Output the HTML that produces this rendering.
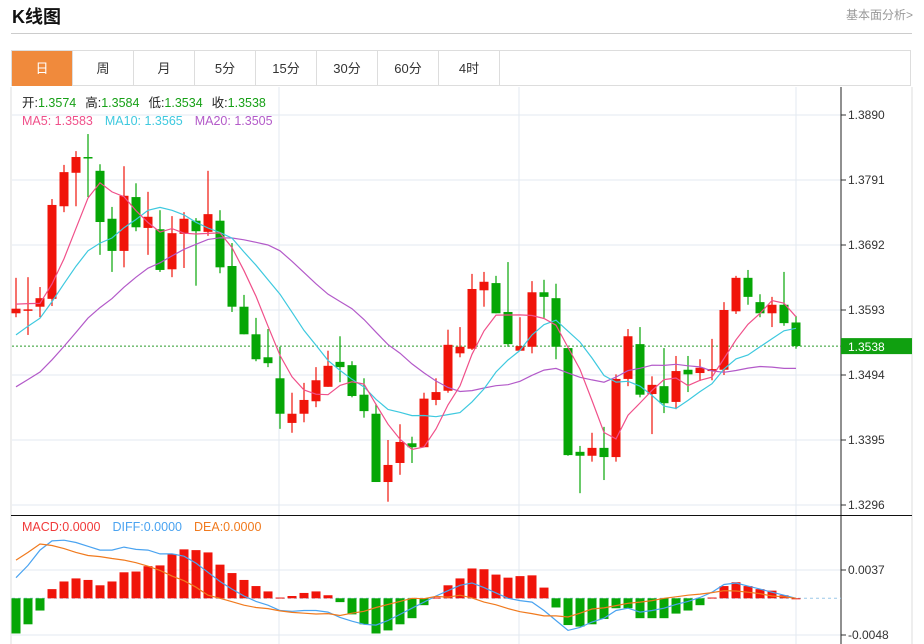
<!DOCTYPE html>
<html><head><meta charset="utf-8">
<style>
body{margin:0;background:#fff;font-family:"Liberation Sans","Noto Sans CJK SC",sans-serif;}
#wrap{position:relative;width:924px;height:644px;overflow:hidden;}
.title{position:absolute;left:12px;top:3px;font-size:18px;font-weight:bold;color:#111;}
.more{position:absolute;right:11px;top:6px;font-size:12px;color:#999;}
.hr{position:absolute;left:11px;top:33px;width:901px;height:1px;background:#ccc;}
.tabs{position:absolute;left:11px;top:50px;height:36px;width:900px;border:1px solid #ddd;border-bottom:1px solid #ddd;box-sizing:border-box;}
.tab{position:absolute;top:0;height:35px;width:61px;border-right:1px solid #ddd;box-sizing:border-box;text-align:center;line-height:35px;font-size:13px;color:#333;}
.tab.on{background:#f08a3c;color:#fff;}
</style></head><body>
<div id="wrap">
<div class="title">K线图</div>
<div class="more">基本面分析&gt;</div>
<div class="hr"></div>
<div class="tabs">
<div class="tab on" style="left:0">日</div>
<div class="tab" style="left:61px">周</div>
<div class="tab" style="left:122px">月</div>
<div class="tab" style="left:183px">5分</div>
<div class="tab" style="left:244px">15分</div>
<div class="tab" style="left:305px">30分</div>
<div class="tab" style="left:366px">60分</div>
<div class="tab" style="left:427px">4时</div>
</div>
<svg id="chart" width="924" height="644" style="position:absolute;left:0;top:0"></svg>
</div>
<script>
const opens=[1.3588,1.3593,1.3598,1.3610,1.3751,1.3802,1.3826,1.3805,1.3732,1.3683,1.3765,1.3718,1.3716,1.3655,1.3709,1.3729,1.3712,1.3729,1.3660,1.3598,1.3556,1.3521,1.3489,1.3421,1.3435,1.3454,1.3476,1.3514,1.3509,1.3464,1.3435,1.3331,1.3360,1.3390,1.3384,1.3456,1.3470,1.3527,1.3534,1.3623,1.3634,1.3590,1.3531,1.3537,1.3620,1.3611,1.3535,1.3377,1.3371,1.3383,1.3369,1.3488,1.3541,1.3465,1.3477,1.3453,1.3502,1.3497,1.3500,1.3502,1.3591,1.3642,1.3605,1.3588,1.3601,1.3574];
const closes=[1.3595,1.3594,1.3611,1.3753,1.3803,1.3826,1.3825,1.3727,1.3683,1.3767,1.3719,1.3735,1.3654,1.3710,1.3732,1.3713,1.3739,1.3658,1.3598,1.3556,1.3518,1.3512,1.3435,1.3435,1.3456,1.3486,1.3508,1.3506,1.3462,1.3439,1.3331,1.3357,1.3392,1.3384,1.3458,1.3468,1.3540,1.3537,1.3625,1.3636,1.3588,1.3541,1.3538,1.3620,1.3613,1.3537,1.3372,1.3371,1.3383,1.3369,1.3488,1.3553,1.3464,1.3479,1.3451,1.3500,1.3495,1.3505,1.3503,1.3593,1.3642,1.3613,1.3588,1.3601,1.3573,1.3538];
const highs=[1.3642,1.3643,1.3628,1.3762,1.3814,1.3835,1.3861,1.3815,1.3750,1.3812,1.3786,1.3773,1.3745,1.3736,1.3742,1.3733,1.3805,1.3745,1.3695,1.3616,1.3581,1.3564,1.3537,1.3467,1.3482,1.3506,1.3531,1.3553,1.3515,1.3489,1.3450,1.3395,1.3419,1.3400,1.3467,1.3489,1.3563,1.3567,1.3648,1.3651,1.3645,1.3666,1.3582,1.3637,1.3639,1.3633,1.3535,1.3386,1.3406,1.3415,1.3495,1.3564,1.3567,1.3492,1.3535,1.3523,1.3523,1.3518,1.3549,1.3605,1.3645,1.3654,1.3617,1.3613,1.3651,1.3584];
const lows=[1.3582,1.3555,1.3582,1.3599,1.3742,1.3751,1.3765,1.3677,1.3651,1.3658,1.3713,1.3677,1.3651,1.3643,1.3657,1.3630,1.3706,1.3649,1.3590,1.3556,1.3515,1.3506,1.3412,1.3406,1.3422,1.3445,1.3476,1.3483,1.3460,1.3429,1.3331,1.3301,1.3342,1.3360,1.3384,1.3448,1.3467,1.3521,1.3532,1.3598,1.3588,1.3537,1.3531,1.3527,1.3581,1.3518,1.3371,1.3314,1.3362,1.3334,1.3362,1.3477,1.3460,1.3404,1.3436,1.3442,1.3468,1.3485,1.3486,1.3494,1.3587,1.3601,1.3582,1.3567,1.3569,1.3534];
const priorCloses=[1.3370,1.3385,1.3380,1.3395,1.3400,1.3390,1.3405,1.3410,1.3420,1.3415,1.3460,1.3490,1.3500,1.3530,1.3560,1.3590,1.3610,1.3605,1.3610];
const macdHist=[-0.0046,-0.0034,-0.0016,0.0012,0.0022,0.0026,0.0024,0.0017,0.0022,0.0034,0.0035,0.0042,0.0043,0.0058,0.0064,0.0063,0.0060,0.0044,0.0033,0.0024,0.0016,0.0009,0.0001,0.0003,0.0007,0.0009,0.0004,-0.0005,-0.0021,-0.0034,-0.0046,-0.0042,-0.0034,-0.0026,-0.0009,0.0001,0.0017,0.0026,0.0039,0.0038,0.0031,0.0027,0.0029,0.0030,0.0014,-0.0012,-0.0035,-0.0037,-0.0034,-0.0027,-0.0013,-0.0013,-0.0026,-0.0026,-0.0026,-0.0020,-0.0016,-0.0009,0.0001,0.0016,0.0021,0.0016,0.0012,0.0010,0.0004,0.0000];
const diffLine=[0.0027,0.0043,0.0063,0.0075,0.0076,0.0073,0.0068,0.0063,0.0063,0.0067,0.0064,0.0063,0.0058,0.0058,0.0055,0.0046,0.0034,0.0022,0.0012,0.0003,-0.0004,-0.0009,-0.0016,-0.0017,-0.0016,-0.0016,-0.0018,-0.0025,-0.0030,-0.0034,-0.0035,-0.0029,-0.0021,-0.0013,-0.0005,0.0003,0.0010,0.0017,0.0020,0.0014,0.0007,0.0000,-0.0003,-0.0005,-0.0016,-0.0029,-0.0042,-0.0038,-0.0031,-0.0026,-0.0016,-0.0013,-0.0018,-0.0016,-0.0013,-0.0008,-0.0004,0.0001,0.0008,0.0018,0.0020,0.0016,0.0012,0.0008,0.0004,0.0000];
const priceTicks=[1.3890,1.3791,1.3692,1.3593,1.3494,1.3395,1.3296];
const macdTicks=[0.0037,-0.0048];

const NS='http://www.w3.org/2000/svg';
const svg=document.getElementById('chart');
function mk(tag,attrs,parent){const e=document.createElementNS(NS,tag);for(const k in attrs)e.setAttribute(k,attrs[k]);(parent||svg).appendChild(e);return e;}
const RED='#f0140a',GREEN='#06a606';
const yP=p=>115+(1.3890-p)/0.0099*65;
const yM=v=>598.3-v/0.0085*65;
const xC=i=>16+12*i;
const PLOT_R=841;

// frame lines
let g;
g=mk('line',{x1:11,y1:87,x2:11,y2:644,stroke:'#ddd'});


g=mk('line',{x1:912,y1:87,x2:912,y2:644,stroke:'#ddd'});


// vertical grid
[279,519,796].forEach(x=>{const l=mk('line',{x1:x,y1:87,x2:x,y2:644,stroke:'#e3eaf0'});

});
// price grid + labels
priceTicks.forEach(p=>{const y=yP(p);
const l=mk('line',{x1:12,y1:y,x2:PLOT_R,y2:y,stroke:'#e3eaf0'});


mk('line',{x1:PLOT_R,y1:y,x2:PLOT_R+5,y2:y,stroke:'#333'});
const t=mk('text',{x:848,y:y+4,'font-size':12,fill:'#333','font-family':'Liberation Sans'});t.textContent=p.toFixed(4);

});
// macd grid
macdTicks.forEach(v=>{const y=yM(v);
const l=mk('line',{x1:12,y1:y,x2:PLOT_R,y2:y,stroke:'#e3eaf0'});


mk('line',{x1:PLOT_R,y1:y,x2:PLOT_R+5,y2:y,stroke:'#333'});
const t=mk('text',{x:848,y:y+4,'font-size':12,fill:'#333','font-family':'Liberation Sans'});t.textContent=v.toFixed(4);

});
// axis
g=mk('line',{x1:PLOT_R,y1:87,x2:PLOT_R,y2:644,stroke:'#222'});


g=mk('line',{x1:11,y1:515.5,x2:912,y2:515.5,stroke:'#111'});


// current price line
const last=closes[closes.length-1];
g=mk('line',{x1:12,y1:yP(last),x2:PLOT_R,y2:yP(last),stroke:'#2a9a2a','stroke-dasharray':'2,2'});


g=mk('rect',{x:PLOT_R,y:yP(last)-8,width:71,height:16,fill:'#10a010'});


g=mk('text',{x:848,y:yP(last)+5,'font-size':12,fill:'#fff','font-family':'Liberation Sans'});g.textContent=last.toFixed(4);


// macd zero line
g=mk('line',{x1:12,y1:yM(0),x2:PLOT_R,y2:yM(0),stroke:'#9cc8e8','stroke-dasharray':'3,3'});



// candles
for(let i=0;i<closes.length;i++){
 const up=closes[i]>=opens[i];const c=up?RED:GREEN;const x=xC(i);
 const w=mk('line',{x1:x,y1:yP(highs[i]),x2:x,y2:yP(lows[i]),stroke:c,'stroke-width':1.2});
 
 
 const t=Math.min(yP(opens[i]),yP(closes[i]));const h=Math.max(1.5,Math.abs(yP(opens[i])-yP(closes[i])));
 const b=mk('rect',{x:x-4.5,y:t,width:9,height:h,fill:c});
 
 
}
// moving averages
const all=priorCloses.concat(closes);
function ma(n){const r=[];for(let i=0;i<closes.length;i++){const j=i+priorCloses.length;let s=0;for(let k=j-n+1;k<=j;k++)s+=all[k];r.push(s/n);}return r;}
[[20,'#b35ac9','ma20-line'],[10,'#3ec9df','ma10-line'],[5,'#f0508a','ma5-line']].forEach(([n,col,name])=>{
 const v=ma(n);const pts=v.map((p,i)=>xC(i)+','+yP(p).toFixed(1)).join(' ');
 const pl=mk('polyline',{points:pts,fill:'none',stroke:col,'stroke-width':1.2});
 
 
});
// macd bars
macdHist.forEach((v,i)=>{const y0=yM(0),y1=yM(v);
 const r=mk('rect',{x:xC(i)-4.5,y:Math.min(y0,y1),width:9,height:Math.max(1,Math.abs(y1-y0)),fill:v>=0?RED:GREEN});
 
 });
const dea=diffLine.map((d,i)=>d-macdHist[i]/2);
[[diffLine,'#4aa3f0','diff-line'],[dea,'#f07a1e','dea-line']].forEach(([arr,col,name])=>{
 const pts=arr.map((v,i)=>xC(i)+','+yM(v).toFixed(1)).join(' ');
 const pl=mk('polyline',{points:pts,fill:'none',stroke:col,'stroke-width':1.2});
 
 
});
// legends
function legend(y,items,name){const t=mk('text',{x:22,y:y,'font-size':12.5,'font-family':'Liberation Sans, Noto Sans CJK SC, sans-serif'});
 
 
 items.forEach(([s,c,dx])=>{const sp=mk('tspan',{fill:c},t);if(dx)sp.setAttribute('dx',dx);sp.textContent=s;});}
legend(107,[['开:','#222'],['1.3574','#16a016'],['高:','#222',9],['1.3584','#16a016'],['低:','#222',9],['1.3534','#16a016'],['收:','#222',9],['1.3538','#16a016']],'ohlc-legend');
legend(125,[['MA5: 1.3583','#f0508a'],['MA10: 1.3565','#3ec9df',12],['MA20: 1.3505','#b35ac9',12]],'ma-legend');
legend(531,[['MACD:0.0000','#f03a3a'],['DIFF:0.0000','#4aa3f0',12],['DEA:0.0000','#f07a1e',12]],'macd-legend');
</script>
</body></html>
